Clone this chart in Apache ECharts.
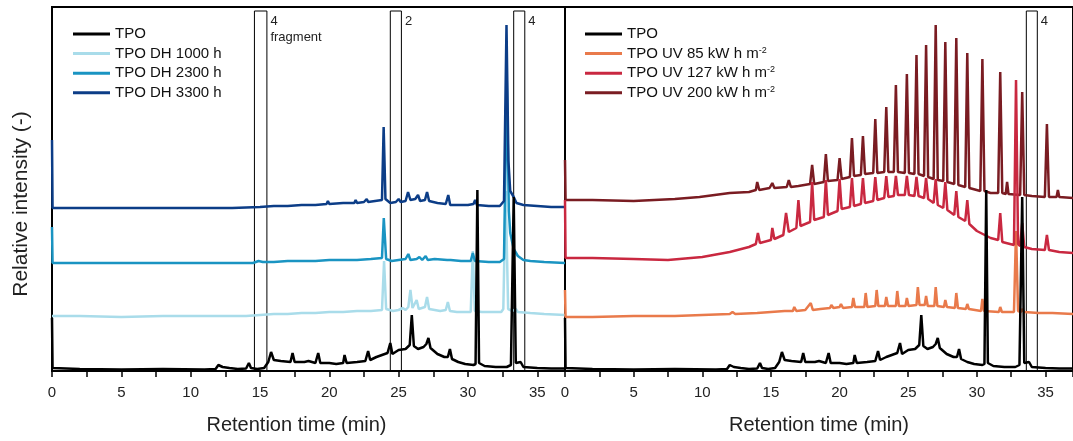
<!DOCTYPE html>
<html>
<head>
<meta charset="utf-8">
<script src="https://cdn.jsdelivr.net/npm/echarts@6/dist/echarts.min.js"></script>
<style>
  html, body { margin: 0; padding: 0; background: #fff; }
  #main { width: 1073px; height: 441px; }
</style>
</head>
<body>
<div id="main"></div>
<script>
// retention time (min), relative intensity (arbitrary, offset traces)
const tpo = [[0,53],[0.04,3],[2,2],[5,1.5],[8,2],[11,1.5],[11.8,2],[12.0,6],[12.3,4],[12.8,3],[13.4,2],[14.0,2.5],
  [14.2,8],[14.35,3],[14.8,2],[15.3,3],[15.6,9],[15.8,19],[16.0,11],[16.5,10],[17.2,9],[17.35,18],[17.5,9],[18.2,9],
  [18.5,10],[19.0,8],[19.2,18],[19.35,8],[20.0,8],[20.5,7],[21.0,8],[21.1,16],[21.25,8],[22.0,9],[22.6,10],[22.8,20],
  [22.95,11],[23.4,14],[23.8,16],[24.2,18],[24.4,28],[24.55,17],[25.0,21],[25.5,22],[25.8,26],[25.95,56],[26.1,25],
  [26.4,22],[26.8,24],[27.0,27],[27.15,33],[27.3,23],[27.8,17],[28.3,14],[28.55,14],[28.7,22],[28.85,12],[29.3,9],
  [29.8,7],[30.4,6],[30.55,7],[30.68,181],[30.8,8],[31.2,5],[32.0,4],[32.8,4],[33.1,6],[33.3,174],[33.45,8],[33.8,9],
  [34.0,4],[35,3],[36,2.5],[37,2.5]];

const dh1000 = [[0,55],[2,55],[5,54],[8,55],[11,55],[13,55],[14,55],[15,56],[16,57],[17,57],[18,58],[19,58],[20,59],
  [21,59],[22,60],[23,60],[23.8,61],[23.95,110],[24.1,62],[24.6,60],[25.0,61],[25.3,63],[25.5,61],[25.7,64],[25.85,81],
  [26.0,63],[26.3,71],[26.45,62],[26.9,64],[27.05,74],[27.2,62],[27.6,61],[28.0,60],[28.4,61],[28.55,69],[28.7,60],
  [29.2,59],[29.8,59],[30.2,59],[30.35,120],[30.5,60],[31.0,59],[31.8,59],[32.4,59],[32.55,62],[32.72,180],[32.9,62],
  [33.2,60],[33.45,62],[33.6,59],[34.5,58],[35.5,57],[37,56]];

const dh2300 = [[0,144],[0.04,108],[2,108],[5,108],[8,108],[11,108],[13,108],[14.5,108],[14.9,110],[15.0,112],[15.2,109],
  [16,109],[17,110],[18,110],[19,110],[20,111],[21,111],[22,111],[23,112],[23.8,113],[23.93,153],[24.1,112],[24.5,110],
  [25,111],[25.5,112],[25.7,117],[25.85,111],[26.3,112],[26.5,114],[26.7,111],[26.95,115],[27.1,111],[27.6,112],
  [28.5,111],[28.6,113],[28.75,111],[29.5,110],[30.2,110],[30.35,118],[30.5,110],[31.5,109],[32.3,109],[32.6,112],
  [32.8,291],[32.95,160],[33.05,138],[33.3,122],[33.6,115],[34.0,111],[34.5,110],[35.5,109],[37,108]];

const dh3300 = [[0,231],[0.04,163],[2,163],[5,163],[8,163],[11,163],[13,163],[15,164],[16,165],[17,165],[18,166],
  [19,166],[19.8,167],[19.9,170],[20.0,167],[21,168],[21.8,168],[21.9,171],[22.0,168],[22.5,169],[22.7,172],[22.8,169],
  [23.3,170],[23.8,171],[23.92,244],[24.05,172],[24.4,168],[24.8,169],[25.0,172],[25.15,169],[25.5,170],[25.68,179],
  [25.85,171],[26.2,172],[26.4,176],[26.55,170],[26.9,171],[27.05,179],[27.2,170],[27.8,168],[28.4,167],[28.58,176],
  [28.72,166],[29.3,166],[30.0,166],[30.4,167],[30.52,171],[30.65,166],[31.5,165],[32.3,165],[32.6,170],[32.78,346],
  [32.92,210],[33.05,180],[33.3,174],[33.5,168],[34,166],[35,165],[36,164],[37,164]];

const uv85 = [[0,81],[0.04,54],[2,54],[5,55],[8,55],[10,56],[12,57],[12.2,59],[12.4,57],[14,58],[15,59],[16,60],
  [16.6,60],[16.7,64],[16.85,60],[17.5,61],[17.9,68],[18.05,61],[18.6,62],[19.3,63],[19.4,66],[19.55,63],[20.0,64],
  [20.1,67],[20.25,63],[20.9,64],[21.0,73],[21.12,64],[21.8,64],[21.9,78],[22.02,64],[22.6,65],[22.7,81],[22.82,65],
  [23.3,65],[23.4,74],[23.52,65],[24.1,65],[24.2,80],[24.32,65],[24.8,65],[24.9,73],[25.02,65],[25.6,66],[25.7,84],
  [25.82,66],[26.2,66],[26.3,75],[26.42,65],[26.9,65],[27.0,84],[27.12,65],[27.6,64],[27.7,71],[27.82,64],[28.4,63],
  [28.5,78],[28.62,63],[29.2,62],[29.3,67],[29.42,62],[30.3,60],[30.4,72],[30.52,60],[31.6,59],[31.7,64],[31.82,59],
  [32.7,59],[32.85,140],[33.0,60],[33.2,59],[33.3,62],[33.45,59],[34.5,58],[35.5,58],[37,57]];

const uv127 = [[0,171],[0.04,113],[2,113],[5,112],[7.5,111],[10,114],[12,119],[13.4,124],[13.9,127],[14.05,138],
  [14.2,128],[15.0,131],[15.1,143],[15.25,132],[15.9,136],[16.1,158],[16.3,139],[16.85,143],[17.0,171],[17.15,145],
  [17.85,149],[18.0,189],[18.15,151],[18.85,154],[19.0,191],[19.15,156],[19.85,160],[20.0,192],[20.15,162],[20.75,164],
  [20.9,193],[21.05,165],[21.55,167],[21.7,193],[21.85,168],[22.45,170],[22.6,194],[22.75,171],[23.25,173],[23.4,195],
  [23.55,174],[23.95,175],[24.1,195],[24.25,176],[24.75,176],[24.9,195],[25.05,176],[25.45,175],[25.6,194],[25.75,175],
  [26.15,173],[26.3,193],[26.45,172],[26.85,168],[27.0,192],[27.15,166],[27.55,163],[27.7,189],[27.85,161],
  [28.35,156],[28.5,180],[28.65,154],[29.15,150],[29.3,171],[29.45,147],[30.0,140],[31.0,133],[31.55,131],[31.7,158],
  [31.85,129],[32.7,126],[32.85,291],[33.0,127],[33.15,125],[33.3,148],[33.45,124],[34.0,122],[34.95,121],[35.1,136],
  [35.25,121],[36,119],[37,118]];

const uv200 = [[0,211],[0.04,171],[2,171],[5,170],[8,172],[9.8,174],[12,178],[13.4,179],[13.9,181],[14.0,189],
  [14.15,181],[14.9,183],[15.1,188],[15.25,183],[16.15,184],[16.3,191],[16.45,184],[17.0,185],[17.85,187],[18.0,206],
  [18.15,187],[18.85,189],[19.0,217],[19.15,190],[19.85,191],[20.0,213],[20.15,192],[20.75,194],[20.9,233],[21.05,195],
  [21.55,196],[21.7,235],[21.85,197],[22.45,198],[22.6,252],[22.75,198],[23.25,199],[23.4,264],[23.55,199],
  [23.95,199],[24.1,286],[24.25,199],[24.75,198],[24.9,297],[25.05,198],[25.45,197],[25.6,316],[25.75,197],
  [26.15,195],[26.3,326],[26.45,194],[26.85,192],[27.0,346],[27.15,191],[27.55,190],[27.7,329],[27.85,189],
  [28.35,187],[28.5,333],[28.65,186],[29.15,184],[29.3,318],[29.45,183],[30.25,180],[30.4,312],[30.55,180],
  [31.0,178],[31.55,178],[31.7,299],[31.85,178],[32.1,177],[32.2,189],[32.3,177],[33.15,176],[33.3,279],[33.45,176],
  [34.0,175],[34.95,174],[35.1,247],[35.25,174],[35.8,174],[35.9,181],[36.0,174],[37,173]];

// boxes: [start, end, label]
const leftBoxes = [[14.6, 15.5, '4\nfragment'], [24.4, 25.2, '2'], [33.3, 34.1, '4']];
const rightBoxes = [[33.6, 34.4, '4']];

const font = 'Liberation Sans, Arial, sans-serif';
const colors = {
  tpo: '#000000', dh1000: '#a9dcea', dh2300: '#1a94c2', dh3300: '#0c3d87',
  uv85: '#e97a4b', uv127: '#c92840', uv200: '#7a1c22'
};

function boxArea(boxes) {
  return {
    silent: true,
    itemStyle: { color: 'rgba(0,0,0,0)', borderColor: '#000', borderWidth: 1 },
    label: {
      show: true, position: ['100%', 0], padding: [3, 0, 0, 3],
      color: '#222', fontSize: 13, lineHeight: 16, fontFamily: font,
      align: 'left', verticalAlign: 'top'
    },
    data: boxes.map(b => [{ name: b[2], xAxis: b[0], yAxis: 0 }, { xAxis: b[1], yAxis: 360 }])
  };
}

function line(name, data, color, idx, extra) {
  return Object.assign({
    name: name, type: 'line', data: data, xAxisIndex: idx, yAxisIndex: idx,
    symbol: 'none', lineStyle: { color: color, width: 2.5 }, itemStyle: { color: color },
    z: 2
  }, extra || {});
}

function xAxisOpt(idx) {
  return {
    type: 'value', gridIndex: idx, min: 0, max: 37, interval: 5,
    name: 'Retention time (min)', nameLocation: 'middle', nameGap: 44,
    nameTextStyle: { fontSize: 20, color: '#222', fontFamily: font, padding: idx === 0 ? [0, 24, 0, 0] : 0 },
    axisLine: { lineStyle: { color: '#000', width: 2 } },
    axisTick: { length: 6, lineStyle: { color: '#000', width: 1.5 } },
    minorTick: { show: true, splitNumber: 2, length: 6, lineStyle: { color: '#000', width: 1.5 } },
    splitLine: { show: false },
    axisLabel: { fontSize: 15, color: '#222', margin: 14, fontFamily: font, showMaxLabel: false }
  };
}

function yAxisOpt(idx) {
  const o = {
    type: 'value', gridIndex: idx, min: 0, max: 364,
    axisLine: { show: false }, axisTick: { show: false }, axisLabel: { show: false }, splitLine: { show: false }
  };
  if (idx === 0) {
    o.name = 'Relative intensity (-)';
    o.nameLocation = 'middle';
    o.nameGap = 20;
    o.nameTextStyle = { fontSize: 21, color: '#222', fontFamily: font, padding: [0, 30, 0, 0] };
  }
  return o;
}

const legendBase = {
  orient: 'vertical', top: 21, icon: 'rect', itemWidth: 37, itemHeight: 3, itemGap: 3.6,
  textStyle: { fontSize: 15, color: '#111', fontFamily: font, lineHeight: 16,
    rich: { sup: { fontSize: 9, verticalAlign: 'top', lineHeight: 10, fontFamily: font, color: '#111' } } },
  formatter: n => n.replace('m-2', 'm{sup|-2}')
};

const chart = echarts.init(document.getElementById('main'));
chart.setOption({
  animation: false,
  backgroundColor: '#fff',
  grid: [
    { left: 52, top: 7, width: 513, height: 364, show: true, borderColor: '#000', borderWidth: 2 },
    { left: 565, top: 7, width: 511, height: 364, show: true, borderColor: '#000', borderWidth: 2 }
  ],
  xAxis: [xAxisOpt(0), xAxisOpt(1)],
  yAxis: [yAxisOpt(0), yAxisOpt(1)],
  legend: [
    Object.assign({}, legendBase, { left: 68, data: ['TPO', 'TPO DH 1000 h', 'TPO DH 2300 h', 'TPO DH 3300 h'] }),
    Object.assign({}, legendBase, { left: 580, data: ['TPO', 'TPO UV 85 kW h m-2', 'TPO UV 127 kW h m-2', 'TPO UV 200 kW h m-2'] })
  ],
  series: [
    line('TPO DH 1000 h', dh1000, colors.dh1000, 0),
    line('TPO DH 2300 h', dh2300, colors.dh2300, 0),
    line('TPO DH 3300 h', dh3300, colors.dh3300, 0),
    line('TPO', tpo, colors.tpo, 0, { markArea: boxArea(leftBoxes) }),
    line('TPO UV 85 kW h m-2', uv85, colors.uv85, 1),
    line('TPO UV 200 kW h m-2', uv200, colors.uv200, 1),
    line('TPO UV 127 kW h m-2', uv127, colors.uv127, 1),
    line('TPO', tpo, colors.tpo, 1, { markArea: boxArea(rightBoxes) })
  ]
});
</script>
</body>
</html>
